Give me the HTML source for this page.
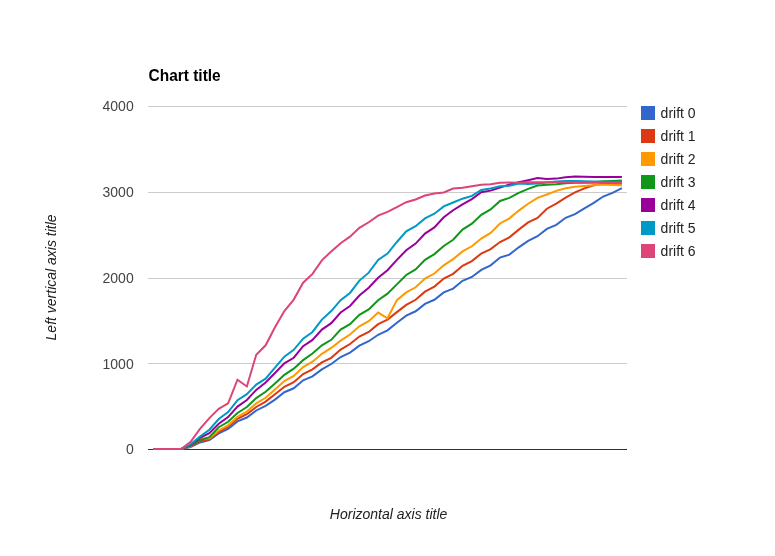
<!DOCTYPE html>
<html><head><meta charset="utf-8"><title>Chart title</title>
<style>html,body{margin:0;padding:0;background:#fff;}svg{display:block;will-change:transform;font-family:"Liberation Sans",Arial,sans-serif;}</style></head>
<body>
<svg width="775" height="556" viewBox="0 0 775 556">
<rect x="0" y="0" width="775" height="556" fill="#ffffff"/>
<text transform="translate(148.6 80.8) scale(0.966 1)" font-size="16" font-weight="bold" fill="#000000">Chart title</text>
<rect x="641" y="106" width="14" height="14" fill="#3366cc"/>
<text x="660.6" y="118.1" font-size="14" fill="#222222">drift 0</text>
<rect x="641" y="129" width="14" height="14" fill="#dc3912"/>
<text x="660.6" y="141.1" font-size="14" fill="#222222">drift 1</text>
<rect x="641" y="152" width="14" height="14" fill="#ff9900"/>
<text x="660.6" y="164.1" font-size="14" fill="#222222">drift 2</text>
<rect x="641" y="175" width="14" height="14" fill="#109618"/>
<text x="660.6" y="187.1" font-size="14" fill="#222222">drift 3</text>
<rect x="641" y="198" width="14" height="14" fill="#990099"/>
<text x="660.6" y="210.1" font-size="14" fill="#222222">drift 4</text>
<rect x="641" y="221" width="14" height="14" fill="#0099c6"/>
<text x="660.6" y="233.1" font-size="14" fill="#222222">drift 5</text>
<rect x="641" y="244" width="14" height="14" fill="#dd4477"/>
<text x="660.6" y="256.1" font-size="14" fill="#222222">drift 6</text>
<rect x="148" y="363" width="479" height="1" fill="#cccccc"/>
<rect x="148" y="278" width="479" height="1" fill="#cccccc"/>
<rect x="148" y="192" width="479" height="1" fill="#cccccc"/>
<rect x="148" y="106" width="479" height="1" fill="#cccccc"/>
<rect x="148" y="449" width="479" height="1" fill="#333333"/>
<polyline points="153.10,449.00 162.48,449.00 171.85,449.00 181.23,449.00 190.60,447.01 199.98,442.47 209.36,440.07 218.73,433.46 228.11,428.92 237.48,421.37 246.86,417.52 256.24,410.48 265.61,405.77 274.99,399.59 284.36,392.22 293.74,388.27 303.12,380.30 312.49,376.36 321.87,369.41 331.24,364.01 340.62,357.06 350.00,352.60 359.37,345.66 368.75,341.20 378.12,334.77 387.50,330.39 396.88,322.68 406.25,315.64 415.63,311.27 425.00,303.90 434.38,299.78 443.76,292.41 453.13,288.55 462.51,280.83 471.88,276.97 481.26,269.94 490.64,265.31 500.01,257.59 509.39,254.59 518.76,247.30 528.14,240.96 537.52,236.24 546.89,228.95 556.27,224.83 565.64,217.80 575.02,214.12 584.40,208.29 593.77,202.88 603.15,196.54 612.52,192.85 621.90,188.13" fill="none" stroke="#3366cc" stroke-width="2"/>
<polyline points="153.10,449.00 162.48,449.00 171.85,449.00 181.23,449.00 190.60,446.67 199.98,441.27 209.36,439.21 218.73,431.75 228.11,426.95 237.48,418.80 246.86,414.26 256.24,406.97 265.61,401.65 274.99,394.19 284.36,386.73 293.74,382.27 303.12,374.04 312.49,369.41 321.87,362.46 331.24,357.83 340.62,349.52 350.00,344.03 359.37,336.57 368.75,331.94 378.12,324.22 387.50,319.59 396.88,312.13 406.25,304.84 415.63,299.78 425.00,291.63 434.38,286.58 443.76,278.51 453.13,273.88 462.51,265.82 471.88,261.11 481.26,253.48 490.64,249.10 500.01,241.99 509.39,237.35 518.76,229.64 528.14,222.35 537.52,217.97 546.89,208.71 556.27,203.57 565.64,197.65 575.02,192.42 584.40,188.39 593.77,185.22 603.15,183.68 612.52,183.50 621.90,183.68" fill="none" stroke="#dc3912" stroke-width="2"/>
<polyline points="153.10,449.00 162.48,449.00 171.85,449.00 181.23,449.00 190.60,446.24 199.98,438.70 209.36,438.18 218.73,430.46 228.11,425.32 237.48,416.83 246.86,411.60 256.24,403.37 265.61,397.79 274.99,389.56 284.36,381.07 293.74,375.93 303.12,367.09 312.49,361.69 321.87,353.80 331.24,347.97 340.62,340.60 350.00,334.51 359.37,326.28 368.75,321.13 378.12,312.56 387.50,318.30 396.88,300.12 406.25,292.41 415.63,287.26 425.00,278.51 434.38,273.54 443.76,265.31 453.13,259.13 462.51,251.42 471.88,246.27 481.26,238.56 490.64,232.98 500.01,223.46 509.39,218.32 518.76,210.60 528.14,203.74 537.52,197.91 546.89,194.48 556.27,190.88 565.64,188.31 575.02,186.85 584.40,186.08 593.77,185.30 603.15,184.62 612.52,184.88 621.90,185.13" fill="none" stroke="#ff9900" stroke-width="2"/>
<polyline points="153.10,449.00 162.48,449.00 171.85,449.00 181.23,449.00 190.60,445.73 199.98,440.15 209.36,437.24 218.73,427.20 228.11,421.80 237.48,412.97 246.86,407.05 256.24,398.05 265.61,391.79 274.99,383.39 284.36,374.81 293.74,368.64 303.12,360.15 312.49,353.46 321.87,345.31 331.24,339.83 340.62,329.62 350.00,324.22 359.37,314.87 368.75,309.47 378.12,300.21 387.50,293.61 396.88,284.35 406.25,275.00 415.63,269.42 425.00,259.91 434.38,254.08 443.76,245.93 453.13,239.76 462.51,229.55 471.88,223.72 481.26,214.89 490.64,209.49 500.01,201.00 509.39,197.91 518.76,192.94 528.14,188.91 537.52,185.48 546.89,184.70 556.27,184.28 565.64,183.25 575.02,182.73 584.40,182.73 593.77,182.30 603.15,181.27 612.52,180.93 621.90,180.50" fill="none" stroke="#109618" stroke-width="2"/>
<polyline points="153.10,449.00 162.48,449.00 171.85,449.00 181.23,449.00 190.60,445.13 199.98,437.84 209.36,433.21 218.73,423.77 228.11,417.09 237.48,406.62 246.86,399.94 256.24,389.90 265.61,382.53 274.99,372.93 284.36,363.32 293.74,357.75 303.12,346.17 312.49,339.91 321.87,329.62 331.24,323.19 340.62,312.47 350.00,306.04 359.37,295.58 368.75,287.78 378.12,277.74 387.50,270.28 396.88,259.91 406.25,250.22 415.63,243.61 425.00,233.58 434.38,227.41 443.76,217.29 453.13,210.26 462.51,204.34 471.88,199.11 481.26,192.25 490.64,190.62 500.01,187.62 509.39,184.45 518.76,182.22 528.14,180.16 537.52,178.10 546.89,179.04 556.27,178.62 565.64,177.24 575.02,176.47 584.40,176.81 593.77,177.07 603.15,177.07 612.52,177.07 621.90,177.07" fill="none" stroke="#990099" stroke-width="2"/>
<polyline points="153.10,449.00 162.48,449.00 171.85,449.00 181.23,449.00 190.60,444.36 199.98,436.64 209.36,429.69 218.73,419.06 228.11,412.11 237.48,400.28 246.86,394.19 256.24,384.59 265.61,378.67 274.99,367.52 284.36,356.63 293.74,349.86 303.12,338.71 312.49,331.94 321.87,319.59 331.24,311.10 340.62,300.21 350.00,292.92 359.37,280.57 368.75,272.68 378.12,259.99 387.50,253.56 396.88,241.99 406.25,231.27 415.63,226.21 425.00,218.40 434.38,213.69 443.76,206.40 453.13,202.54 462.51,198.68 471.88,195.85 481.26,190.02 490.64,188.56 500.01,186.25 509.39,185.65 518.76,183.42 528.14,183.93 537.52,183.42 546.89,182.39 556.27,181.45 565.64,181.10 575.02,181.10 584.40,181.27 593.77,181.53 603.15,181.70 612.52,181.70 621.90,181.70" fill="none" stroke="#0099c6" stroke-width="2"/>
<polyline points="153.10,449.00 162.48,449.00 171.85,449.00 181.23,449.00 190.60,441.78 199.98,428.92 209.36,418.12 218.73,408.85 228.11,403.28 237.48,379.70 246.86,386.47 256.24,354.75 265.61,345.31 274.99,327.31 284.36,311.01 293.74,299.61 303.12,282.72 312.49,273.88 321.87,260.34 331.24,251.42 340.62,243.19 350.00,236.67 359.37,227.84 368.75,222.26 378.12,215.66 387.50,211.80 396.88,207.17 406.25,202.20 415.63,199.45 425.00,195.51 434.38,193.54 443.76,192.42 453.13,188.56 462.51,187.79 471.88,186.25 481.26,184.70 490.64,184.28 500.01,182.73 509.39,182.39 518.76,182.73 528.14,182.22 537.52,182.13 546.89,182.13 556.27,182.13 565.64,182.22 575.02,182.39 584.40,182.56 593.77,182.65 603.15,182.82 612.52,182.99 621.90,183.07" fill="none" stroke="#dd4477" stroke-width="2"/>
<text x="133.7" y="454.40" font-size="14" text-anchor="end" fill="#444444">0</text>
<text x="133.7" y="368.65" font-size="14" text-anchor="end" fill="#444444">1000</text>
<text x="133.7" y="282.90" font-size="14" text-anchor="end" fill="#444444">2000</text>
<text x="133.7" y="197.15" font-size="14" text-anchor="end" fill="#444444">3000</text>
<text x="133.7" y="111.40" font-size="14" text-anchor="end" fill="#444444">4000</text>
<text x="388.6" y="518.9" font-size="14" font-style="italic" text-anchor="middle" fill="#222222">Horizontal axis title</text>
<text x="0" y="0" transform="translate(55.6 277.4) rotate(-90)" font-size="14" font-style="italic" text-anchor="middle" fill="#222222">Left vertical axis title</text>
</svg>
</body></html>
